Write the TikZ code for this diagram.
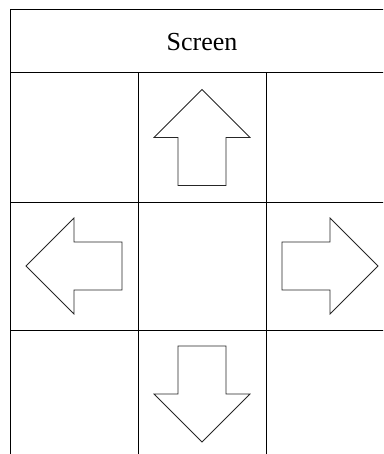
\documentclass[tikz,border=0pt]{standalone}
\usepackage{fontspec}
\setmainfont{Liberation Serif}
\usepackage{tikz}
\usetikzlibrary{positioning}

\tikzset{
  gridline/.style={black, line width=1pt},
  keyarrow/.style={black!85, line width=0.8pt, line join=miter},
  title/.style={font=\fontsize{26}{30}\selectfont, inner sep=0pt}
}

% one arrow key, drawn pointing up and turned into place
\newcommand{\keyarrow}[3]{%
  \draw[keyarrow, shift={(#1,#2)}, rotate=#3]
    (0,48) -- (48,0) -- (24,0) -- (24,-48) -- (-24,-48) -- (-24,0) -- (-48,0) -- cycle;
}

\begin{document}
\begin{tikzpicture}[x=1pt, y=1pt]

\useasboundingbox (0,0) rectangle (383,-454);
\clip (0,0) rectangle (383,-454);

% Screen header
\node[title] (screen) at (202,-42) {Screen};

% Rows
\foreach \y in {10,73,202,330}
  \draw[gridline] (10,-\y) -- (394,-\y);

% Columns
\draw[gridline] (10,-10) -- (10,-458);
\foreach \x in {138,266}
  \draw[gridline] (\x,-73) -- (\x,-458);

% Arrow keys
\keyarrow{202}{-137.5}{0}    % up
\keyarrow{74}{-266}{90}      % left
\keyarrow{330}{-266}{-90}    % right
\keyarrow{202}{-394}{180}    % down

\end{tikzpicture}
\end{document}
